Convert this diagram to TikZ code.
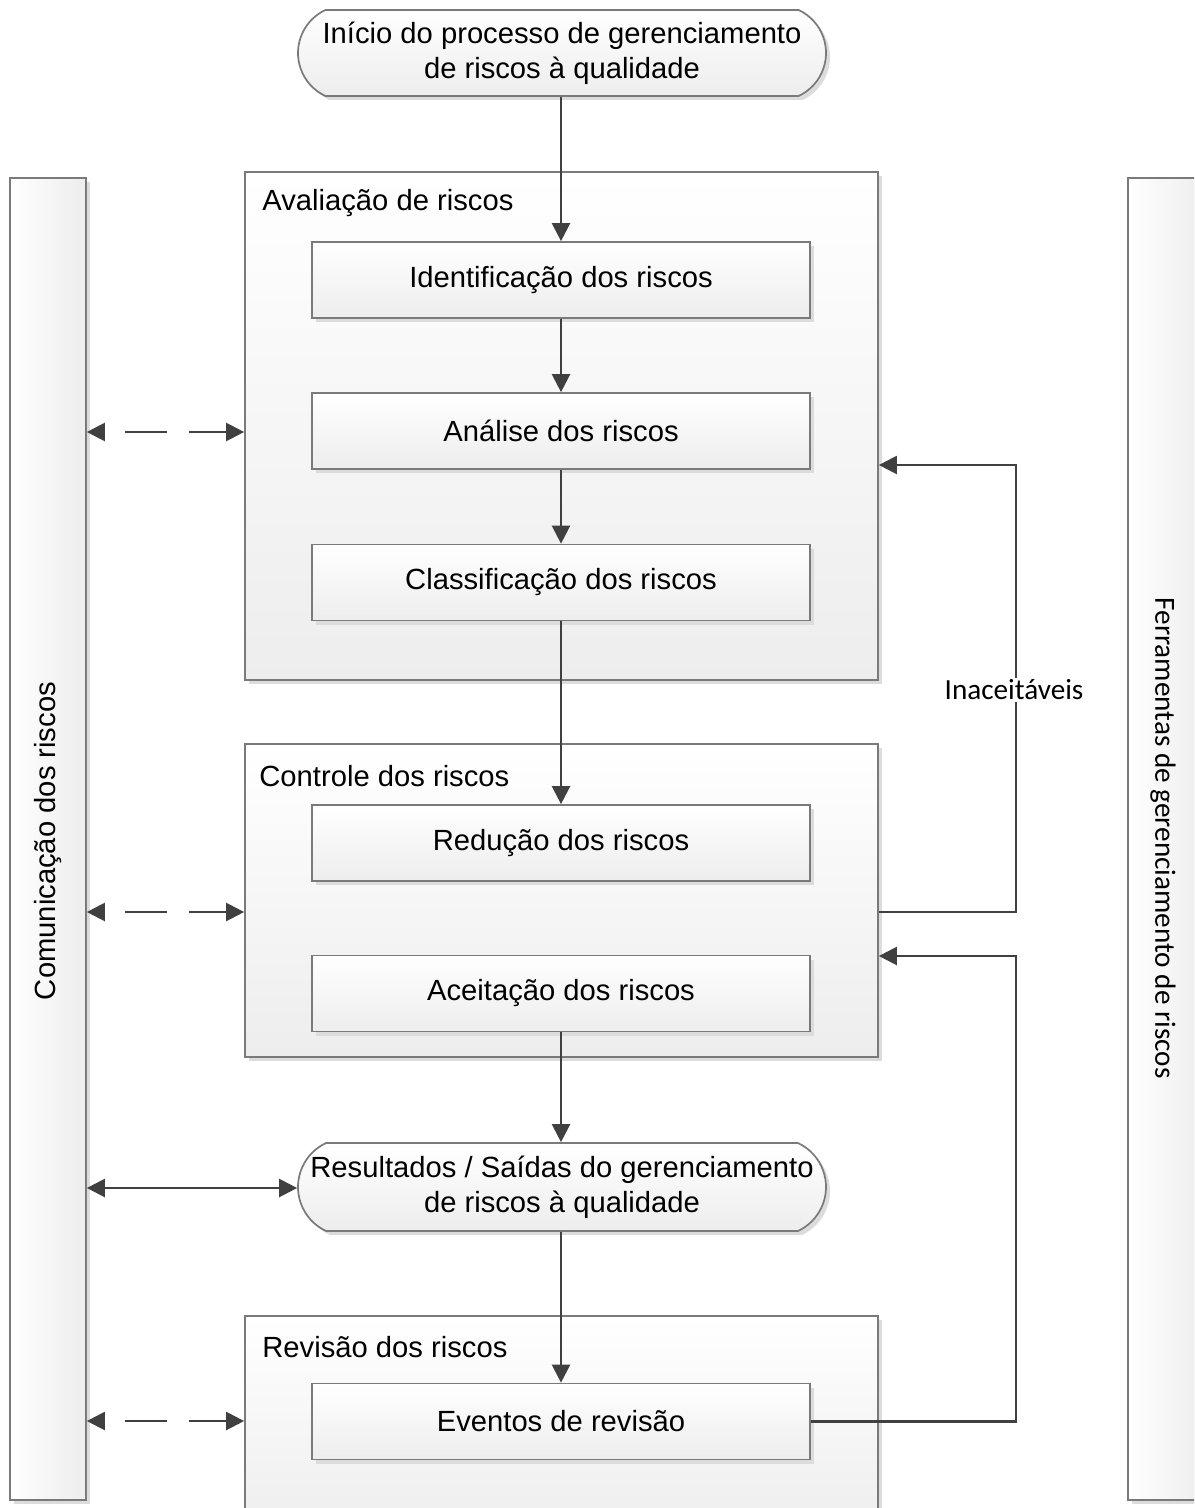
\documentclass[tikz,border=0pt]{standalone}
\usepackage{fontspec}
\setmainfont{Liberation Sans}
\newfontfamily\calfont{Carlito}
\usetikzlibrary{shapes.misc,shadows,arrows.meta}
\definecolor{edge}{HTML}{7A7A7A}
\definecolor{wire}{HTML}{404040}
\definecolor{shade}{HTML}{EDEDED}
\definecolor{shadowgrey}{HTML}{DCDCDC}
\tikzset{
  txt/.style={font=\fontsize{14.6pt}{17.5pt}\selectfont},
  caltxt/.style={font=\calfont\fontsize{14.6pt}{17.5pt}\selectfont},
  base/.style={draw=edge, line width=0.85pt, inner sep=0pt,
    drop shadow={shadow xshift=2pt, shadow yshift=-2pt, fill=shadowgrey, opacity=1}},
  group/.style={base, rectangle, top color=white, bottom color=shade, minimum width=316.5pt},
  stepbox/.style={base, txt, rectangle, top color=white, bottom color=shade,
    minimum width=249pt, minimum height=38pt},
  term/.style={base, txt, rounded rectangle, rounded rectangle arc length=130,
    top color=white, bottom color=shade, minimum width=264pt, align=center},
  sidebar/.style={base, rectangle, left color=white, right color=shade,
    minimum width=38pt, minimum height=661pt},
  flow/.style={draw=wire, line width=1.15pt, -{Triangle[length=9pt,width=9pt]}},
  link/.style={draw=wire, line width=1.15pt, {Triangle[length=9pt,width=9pt]}-{Triangle[length=9pt,width=9pt]}},
  dlink/.style={link, dash pattern=on 21pt off 11pt, dash phase=2pt},
  grouplabel/.style={txt, anchor=west, inner sep=0pt},
}
\begin{document}
\begin{tikzpicture}[x=0.5pt, y=-0.5pt]
  \useasboundingbox (0,0) rectangle (1194,1508);
  \clip (0,0) rectangle (1194,1508);

  % side bars
  \node[sidebar] (comm) at (48,839) {};
  \node[sidebar] (tools) at (1166,839) {};
  \node[txt, rotate=90] (commtext) at (48,841) {Comunicação dos riscos};
  \node[caltxt, rotate=-90] (toolstext) at (1163,838) {Ferramentas de gerenciamento de riscos};

  % start terminator
  \node[term, minimum height=43pt] (start) at (562,53) {Início do processo de gerenciamento\\de riscos à qualidade};

  % risk assessment group
  \node[group, minimum height=254pt] (aval) at (561.5,426) {};
  \node[grouplabel] (avallbl) at (262,203) {Avaliação de riscos};
  \node[stepbox] (ident) at (561,280) {Identificação dos riscos};
  \node[stepbox] (anal) at (561,431) {Análise dos riscos};
  \node[stepbox] (class) at (561,582.5) {Classificação dos riscos};

  % risk control group
  \node[group, minimum height=156.5pt] (ctrl) at (561.5,900.5) {};
  \node[grouplabel] (ctrllbl) at (259,776) {Controle dos riscos};
  \node[stepbox] (red) at (561,843) {Redução dos riscos};
  \node[stepbox] (acc) at (561,993.5) {Aceitação dos riscos};

  % outputs terminator
  \node[term, minimum height=44pt] (result) at (562,1187) {Resultados / Saídas do gerenciamento\\de riscos à qualidade};

  % risk review group
  \node[group, minimum height=112pt] (rev) at (561.5,1428) {};
  \node[grouplabel] (revlbl) at (262,1347) {Revisão dos riscos};
  \node[stepbox] (evt) at (561,1421.5) {Eventos de revisão};

  % main flow
  \draw[flow] (start.south -| ident.north) -- (ident.north);
  \draw[flow] (ident) -- (anal);
  \draw[flow] (anal) -- (class);
  \draw[flow] (class.south) -- (red.north);
  \draw[flow] (acc.south) -- (result.north -| acc.south);
  \draw[flow] (result.south -| evt.north) -- (evt.north);

  % feedback loops
  \coordinate (back1a) at (1016,912);
  \coordinate (back1b) at (1016,465);
  \coordinate (back2a) at (1016,1421.5);
  \coordinate (back2b) at (1016,956);
  \draw[flow] (ctrl.east |- back1a) -- (back1a) -- (back1b) -- (aval.east |- back1b);
  \draw[flow] (evt.east) -- (back2a) -- (back2b) -- (ctrl.east |- back2b);
  \node[caltxt, fill=white, inner sep=1pt] (unacc) at (1014,690) {Inaceitáveis};

  % communication links
  \coordinate (c1) at (0,432);
  \coordinate (c2) at (0,912);
  \coordinate (c3) at (0,1188);
  \coordinate (c4) at (0,1421);
  \draw[dlink] (aval.west |- c1) -- (comm.east |- c1);
  \draw[dlink] (ctrl.west |- c2) -- (comm.east |- c2);
  \draw[link] (result.west |- c3) -- (comm.east |- c3);
  \draw[dlink] (rev.west |- c4) -- (comm.east |- c4);
\end{tikzpicture}
\end{document}
